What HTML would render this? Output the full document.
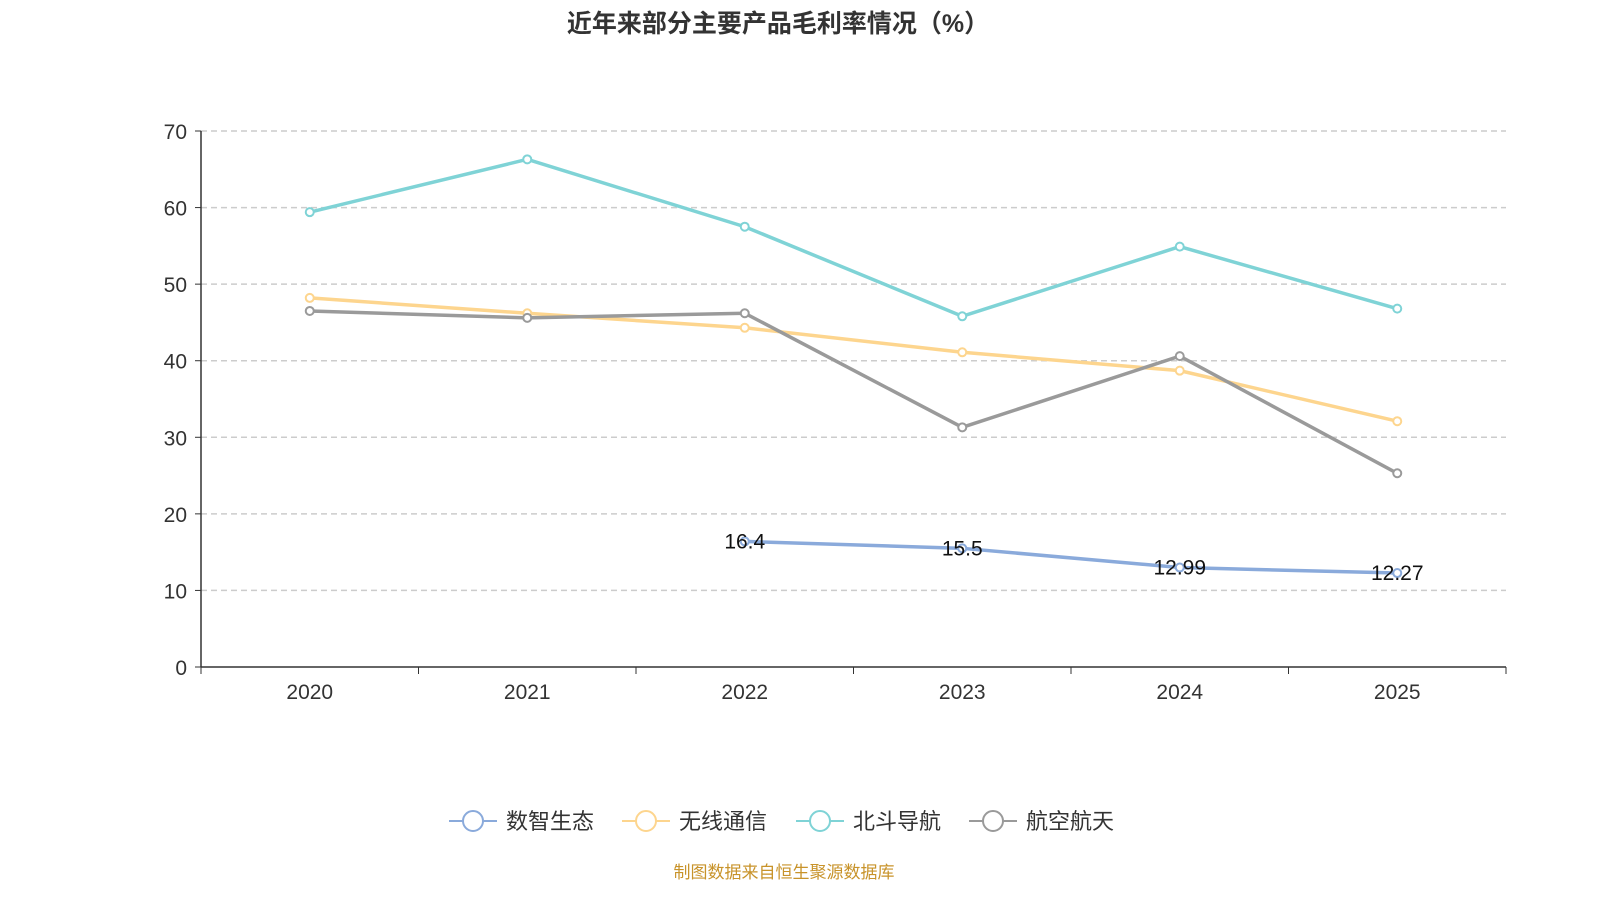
<!DOCTYPE html>
<html><head><meta charset="utf-8"><style>
body{margin:0;background:#fff;width:1600px;height:900px;overflow:hidden;font-family:"Liberation Sans","Noto Sans CJK SC",sans-serif;}
</style></head><body>
<svg id="chart" width="1600" height="900" xmlns="http://www.w3.org/2000/svg" font-family="Liberation Sans, Noto Sans CJK SC, sans-serif">
<text x="778" y="32" text-anchor="middle" font-size="25" font-weight="bold" fill="#333">近年来部分主要产品毛利率情况（%）</text>
<g id="grid"></g><g id="axes"></g><g id="series"></g><g id="legend"></g>
<text x="784" y="878" text-anchor="middle" font-size="17" fill="#c8932a">制图数据来自恒生聚源数据库</text>
</svg>
<script>
const years=['2020','2021','2022','2023','2024','2025'];
const yTicks=[0,10,20,30,40,50,60,70];
const seriesNames=['数智生态','无线通信','北斗导航','航空航天'];
const seriesColors=['#8aaadb','#fdd58e','#7fd3d6','#9a9a9a'];
const shuzhi=[null,null,16.4,15.5,12.99,12.27];
const wuxian=[48.2,46.2,44.3,41.1,38.7,32.1];
const beidou=[59.4,66.3,57.5,45.8,54.9,46.8];
const hangkong=[46.5,45.6,46.2,31.3,40.6,25.3];
const data=[shuzhi,wuxian,beidou,hangkong];
const L=201,R=1506,T=131,B=667;
const xs=i=>L+(R-L)/years.length*(i+0.5);
const ys=v=>B-(B-T)*v/70;
const NS='http://www.w3.org/2000/svg';
function mk(tag,attrs,parent,txt){const e=document.createElementNS(NS,tag);for(const k in attrs)e.setAttribute(k,attrs[k]);if(txt!=null)e.textContent=txt;parent.appendChild(e);return e;}
const grid=document.getElementById('grid'),axes=document.getElementById('axes'),ser=document.getElementById('series'),leg=document.getElementById('legend');
yTicks.forEach(t=>{
  const y=ys(t);
  if(t>0){const g=mk('line',{x1:L,x2:R,y1:y,y2:y,stroke:'#ccc','stroke-dasharray':'6,4','stroke-width':1.5},grid);
  
  }
  mk('line',{x1:L-6,x2:L,y1:y,y2:y,stroke:'#333'},axes);
  const l=mk('text',{x:L-14,y:y+8,'text-anchor':'end','font-size':21,fill:'#333'},axes,t);
  
  
});
mk('line',{x1:L,x2:L,y1:T,y2:B,stroke:'#333','stroke-width':1.5},axes);
mk('line',{x1:L,x2:R,y1:B,y2:B,stroke:'#333','stroke-width':1.5},axes);
for(let i=0;i<=years.length;i++){const x=L+(R-L)/years.length*i;mk('line',{x1:x,x2:x,y1:B,y2:B+7,stroke:'#333'},axes);}
years.forEach((yr,i)=>{const l=mk('text',{x:xs(i),y:B+32,'text-anchor':'middle','font-size':21,fill:'#333'},axes,yr);

});
data.forEach((arr,s)=>{
  const g=mk('g',{},ser);
  
  
  let d='';arr.forEach((v,i)=>{if(v==null)return;d+=(d?'L':'M')+xs(i)+','+ys(v);});
  mk('path',{d:d,fill:'none',stroke:seriesColors[s],'stroke-width':3.5},g);
  arr.forEach((v,i)=>{if(v==null)return;
    const c=mk('circle',{cx:xs(i),cy:ys(v),r:4,fill:'#fff',stroke:seriesColors[s],'stroke-width':2},g);
    
    
    if(s===0){const t=mk('text',{x:xs(i),y:ys(v)+7,'text-anchor':'middle','font-size':21,fill:'#111'},g,v);
    
    }
  });
});
const legX=[449,622,796,969];
seriesNames.forEach((n,s)=>{
  const g=mk('g',{},leg);
  
  
  const x=legX[s];
  mk('line',{x1:x,x2:x+48,y1:821,y2:821,stroke:seriesColors[s],'stroke-width':2},g);
  mk('circle',{cx:x+24,cy:821,r:10,fill:'#fff',stroke:seriesColors[s],'stroke-width':2},g);
  mk('text',{x:x+57,y:829,'font-size':22,fill:'#333'},g,n);
});
</script>
</body></html>
